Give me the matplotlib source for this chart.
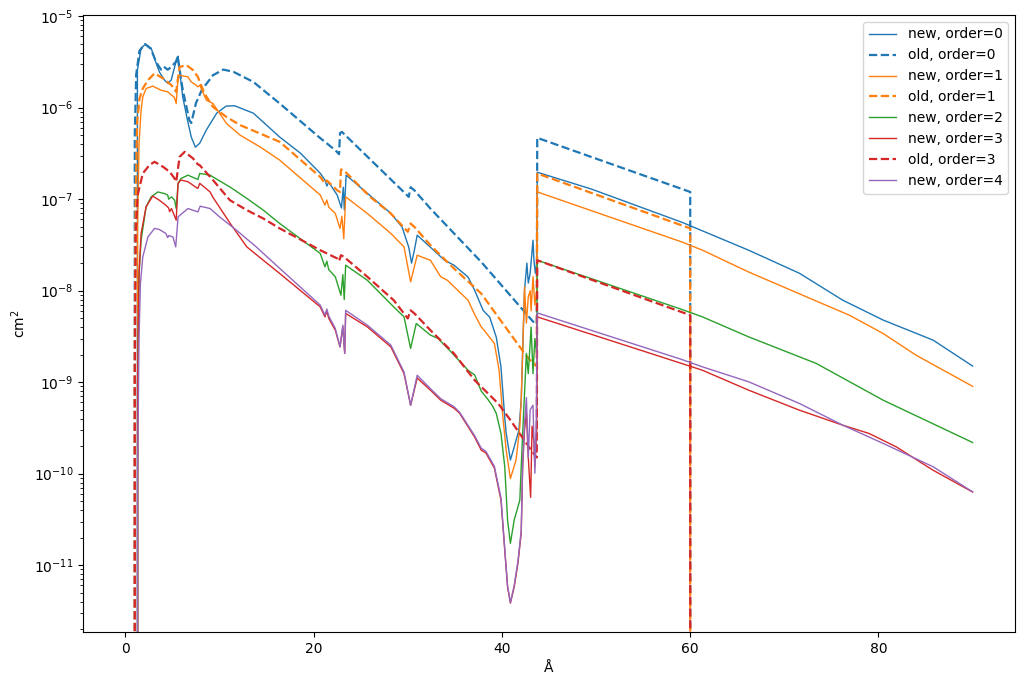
import matplotlib
matplotlib.use("Agg")
import matplotlib.pyplot as plt

# ---- data (wavelength in Angstrom, effective area in cm^2) ----
new0_x = [0, 1.2, 1.28, 1.67, 2.13, 2.74, 3.27, 3.63, 4.16, 4.5, 4.87, 5.23, 5.5, 5.6, 5.76, 6.1, 6.6,
          7.0, 7.44, 7.9, 8.6, 9.7, 10.7, 11.6, 13.6, 16.4, 18.6, 20.7, 21.2, 21.4, 21.6, 22.5, 22.95,
          23.15, 23.26, 23.45, 25.7, 28.2, 29.4, 30.1, 30.4, 30.7, 31.0, 32.4, 33.9, 34.9, 36.4, 37.1,
          38.0, 38.7, 39.4, 39.9, 40.3, 40.45, 40.9, 41.3, 41.8, 42.05, 42.4, 42.65, 42.8, 43.0, 43.3,
          43.4, 43.55, 43.7, 43.75, 49.5, 59.1, 66.2, 71.6, 76.2, 80.5, 85.8, 90.0]
new0_y = [0, 0, 2.57e-6, 4.47e-6, 4.94e-6, 4.47e-6, 3.06e-6, 2.44e-6, 2.0e-6, 1.85e-6, 2.0e-6, 2.77e-6,
          3.56e-6, 3.65e-6, 2.57e-6, 1.3e-6, 7.3e-7, 4.77e-7, 3.7e-7, 4.09e-7, 5.7e-7, 8.7e-7, 1.04e-6,
          1.05e-6, 8.7e-7, 4.77e-7, 3.18e-7, 1.92e-7, 1.62e-7, 1.39e-7, 1.53e-7, 1.11e-7, 8.0e-8,
          1.35e-7, 7.6e-8, 1.83e-7, 1.16e-7, 7.0e-8, 4.94e-8, 2.99e-8, 2.0e-8, 2.77e-8, 4.04e-8,
          2.99e-8, 2.15e-8, 1.9e-8, 1.41e-8, 1.01e-8, 6.1e-9, 5.13e-9, 3.1e-9, 1.46e-9, 4.1e-10,
          2.77e-10, 1.41e-10, 1.95e-10, 2.99e-10, 6.35e-10, 1.01e-8, 2.0e-8, 1.21e-8, 1.55e-8, 3.56e-8,
          2.15e-8, 1.55e-8, 2.0e-8, 1.97e-7, 1.29e-7, 5.6e-8, 2.77e-8, 1.55e-8, 7.87e-9, 4.77e-9,
          2.88e-9, 1.5e-9]

old0_x = [0, 0.97, 1.0, 1.15, 1.5, 2.1, 2.7, 3.3, 3.8, 4.1, 4.5, 4.9, 5.4, 5.55, 6.1, 6.8, 7.0, 7.5,
          8.1, 9.3, 10.4, 11.5, 13.6, 16.4, 20.7, 22.3, 22.7, 22.8, 23.0, 30.1, 30.3, 30.7, 32.4, 37.8,
          43.3, 43.7, 43.75, 60.0, 60.0, 90.0]
old0_y = [0, 0, 5e-7, 2.3e-6, 4.2e-6, 4.95e-6, 4.4e-6, 3.1e-6, 2.6e-6, 2.8e-6, 2.6e-6, 2.8e-6, 3.2e-6,
          3.6e-6, 1.55e-6, 7.3e-7, 6.8e-7, 1.12e-6, 1.55e-6, 2.26e-6, 2.61e-6, 2.46e-6, 1.91e-6,
          1.11e-6, 4.65e-7, 3.43e-7, 3.1e-7, 5.26e-7, 5.44e-7, 1.06e-7, 1.35e-7, 1.25e-7, 7.9e-8,
          2.06e-8, 4.6e-9, 4.3e-9, 4.68e-7, 1.2e-7, 0, 0]

new1_x = [0, 1.25, 1.3, 1.45, 1.67, 1.85, 2.2, 2.9, 3.8, 4.5, 4.9, 5.2, 5.4, 5.6, 5.76, 6.65, 7.0, 7.4,
          7.7, 7.9, 8.6, 9.3, 10.75, 12.2, 14.3, 16.4, 20.7, 21.2, 21.4, 21.6, 22.3, 22.8, 23.0, 23.2,
          23.4, 25.7, 28.2, 29.6, 30.3, 31.0, 32.4, 33.5, 34.2, 36.4, 37.1, 37.8, 38.1, 39.2, 39.7,
          40.1, 40.45, 40.9, 41.5, 41.9, 42.05, 42.4, 42.6, 42.8, 43.0, 43.1, 43.3, 43.5, 43.7, 43.75,
          59.1, 61.3, 66.2, 74.4, 76.9, 80.5, 84.0, 90.0]
new1_y = [0, 0, 5e-8, 4e-7, 9.4e-7, 1.31e-6, 1.62e-6, 1.72e-6, 1.55e-6, 1.49e-6, 1.37e-6, 1.3e-6,
          1.11e-6, 2.17e-6, 2.26e-6, 2.17e-6, 1.91e-6, 1.8e-6, 1.69e-6, 1.76e-6, 1.21e-6, 1.11e-6,
          6.7e-7, 5.0e-7, 3.73e-7, 2.67e-7, 1.11e-7, 8.6e-8, 9.8e-8, 8.2e-8, 6.98e-8, 4.79e-8, 6.5e-8,
          3.7e-8, 1.06e-7, 6.98e-8, 4.22e-8, 3.01e-8, 1.25e-8, 2.44e-8, 2.15e-8, 1.42e-8, 1.3e-8,
          7.87e-9, 5.5e-9, 4.02e-9, 3.7e-9, 2.65e-9, 1.35e-9, 4.18e-10, 1.81e-10, 8.85e-11, 1.41e-10,
          3.24e-10, 6.35e-10, 1.1e-8, 4.42e-9, 8.55e-9, 1.0e-8, 6.0e-9, 1.42e-8, 7.0e-9, 1.0e-8,
          1.2e-7, 3.41e-8, 2.77e-8, 1.6e-8, 6.95e-9, 5.4e-9, 3.4e-9, 1.97e-9, 9.0e-10]

old1_x = [0, 0.97, 1.0, 1.1, 1.25, 1.5, 1.85, 2.4, 3.1, 4.0, 4.9, 5.4, 5.76, 6.5, 7.2, 7.7, 8.4, 9.3,
          10.75, 12.2, 14.3, 16.4, 20.7, 21.2, 21.4, 22.5, 22.8, 22.9, 23.2, 26.0, 28.2, 30.0, 30.3,
          30.7, 32.4, 34.9, 37.8, 42.4, 43.3, 43.7, 43.75, 60.0, 60.0, 90.0]
old1_y = [0, 0, 3e-9, 1e-7, 7e-7, 1.25e-6, 1.62e-6, 2.0e-6, 2.37e-6, 2.09e-6, 1.76e-6, 1.49e-6,
          2.79e-6, 2.91e-6, 2.57e-6, 2.17e-6, 1.43e-6, 1.02e-6, 7.9e-7, 6.44e-7, 5.22e-7, 4.23e-7,
          1.75e-7, 1.49e-7, 1.6e-7, 1.25e-7, 1.2e-7, 2.11e-7, 2.07e-7, 1.06e-7, 6.98e-8, 4.4e-8,
          5.42e-8, 4.98e-8, 3.14e-8, 1.75e-8, 9.3e-9, 2.06e-9, 1.6e-9, 1.5e-9, 1.91e-7, 4.79e-8, 0, 0]

new2_x = [0, 1.25, 1.3, 1.45, 1.67, 2.2, 2.74, 3.45, 4.16, 4.5, 4.6, 4.9, 5.23, 5.4, 5.6, 5.9, 6.65,
          7.7, 7.9, 9.0, 9.3, 11.1, 12.9, 14.65, 16.4, 20.7, 21.2, 21.4, 21.6, 22.3, 22.9, 23.1, 23.25,
          23.4, 25.7, 28.5, 29.6, 30.3, 30.9, 32.4, 33.2, 34.6, 36.4, 37.1, 37.8, 38.5, 39.0, 39.4,
          39.9, 40.3, 40.6, 40.9, 41.3, 41.9, 42.2, 42.6, 42.8, 43.1, 43.3, 43.5, 43.7, 43.75, 59.1,
          61.3, 66.2, 73.4, 80.5, 90.0]
new2_y = [0, 0, 1e-9, 1.5e-8, 3.56e-8, 8.24e-8, 1.06e-7, 1.2e-7, 1.15e-7, 1.11e-7, 1.0e-7, 1.06e-7,
          9.75e-8, 7.9e-8, 1.49e-7, 1.68e-7, 1.83e-7, 1.64e-7, 1.91e-7, 1.83e-7, 1.75e-7, 1.36e-7,
          1.02e-7, 7.59e-8, 5.42e-8, 2.55e-8, 1.82e-8, 2.1e-8, 1.7e-8, 1.42e-8, 8.93e-9, 1.5e-8, 8e-9,
          1.9e-8, 1.3e-8, 6.65e-9, 5.17e-9, 2.34e-9, 4.38e-9, 3.27e-9, 3.01e-9, 2.14e-9, 1.35e-9,
          1.2e-9, 8e-10, 6.5e-10, 5.5e-10, 4.55e-10, 2.75e-10, 1.19e-10, 3.1e-11, 1.73e-11, 3.1e-11,
          5.13e-11, 2.75e-10, 2.06e-9, 1.24e-9, 4.0e-9, 1.24e-9, 3e-9, 2e-9, 2.15e-8, 6.24e-9, 5.17e-9,
          3.13e-9, 1.6e-9, 6.35e-10, 2.19e-10]

new3_x = [0, 1.25, 1.3, 1.45, 1.67, 2.2, 2.9, 3.6, 4.3, 4.6, 4.7, 4.9, 5.4, 5.6, 5.9, 6.65, 7.5, 7.7,
          7.9, 9.0, 9.3, 11.1, 12.9, 14.65, 16.4, 20.7, 21.2, 21.4, 21.6, 22.3, 22.8, 23.1, 23.3, 23.4,
          25.7, 28.2, 29.6, 30.3, 31.0, 32.4, 33.5, 34.9, 35.5, 37.1, 37.8, 38.3, 39.2, 39.9, 40.3,
          40.6, 40.9, 41.3, 41.7, 42.05, 42.2, 42.4, 42.6, 42.8, 43.05, 43.2, 43.4, 43.5, 43.7, 43.75,
          59.1, 61.3, 66.2, 71.6, 76.2, 79.0, 81.9, 85.8, 90.0]
new3_y = [0, 0, 1e-9, 1.5e-8, 4.22e-8, 8.24e-8, 1.08e-7, 9.75e-8, 8.59e-8, 8.0e-8, 7.3e-8, 7.9e-8,
          5.89e-8, 1.49e-7, 1.62e-7, 1.55e-7, 1.35e-7, 1.31e-7, 1.49e-7, 1.2e-7, 1.05e-7, 5.5e-8,
          3.01e-8, 2.15e-8, 1.54e-8, 6.65e-9, 5.17e-9, 6.0e-9, 5.0e-9, 3.7e-9, 2.43e-9, 4.0e-9,
          2.06e-9, 5.64e-9, 4.02e-9, 2.43e-9, 1.24e-9, 5.6e-10, 1.11e-9, 8.18e-10, 6.35e-10, 5.2e-10,
          4.58e-10, 2.51e-10, 1.81e-10, 1.68e-10, 1.15e-10, 5.13e-11, 1.46e-11, 5.75e-12, 3.85e-12,
          5.75e-12, 1.05e-11, 2.24e-11, 1.18e-10, 3.0e-10, 4.6e-10, 1.5e-10, 5.5e-11, 3.3e-10, 2.2e-10,
          1.2e-10, 3.0e-10, 5.17e-9, 1.6e-9, 1.35e-9, 8.18e-10, 4.94e-10, 3.39e-10, 2.75e-10,
          1.96e-10, 1.09e-10, 6.3e-11]

old3_x = [0, 0.97, 1.0, 1.1, 1.3, 1.85, 2.56, 3.1, 4.0, 4.7, 5.2, 5.4, 5.76, 6.3, 7.2, 7.7, 7.9, 9.3,
          11.1, 12.9, 14.65, 16.4, 20.7, 22.5, 22.7, 22.9, 23.2, 25.7, 28.5, 30.0, 30.3, 30.7, 32.4,
          34.9, 37.1, 39.6, 40.9, 43.1, 43.7, 43.75, 60.0, 60.0, 90.0]
old3_y = [0, 0, 1e-9, 4e-8, 1.1e-7, 1.91e-7, 2.36e-7, 2.56e-7, 2.26e-7, 1.99e-7, 1.7e-7, 1.55e-7,
          2.9e-7, 3.29e-7, 2.78e-7, 2.4e-7, 2.35e-7, 1.62e-7, 9.75e-8, 7.59e-8, 6.15e-8, 4.79e-8,
          2.77e-8, 2.25e-8, 2.1e-8, 2.44e-8, 2.35e-8, 1.42e-8, 7.87e-9, 4.97e-9, 6.1e-9, 5.64e-9,
          3.7e-9, 2.06e-9, 1.05e-9, 5.85e-10, 3.85e-10, 1.81e-10, 1.5e-10, 2.15e-8, 5.4e-9, 0, 0]

new4_x = [0, 1.25, 1.3, 1.45, 1.6, 1.85, 2.4, 3.1, 3.6, 4.3, 4.5, 4.6, 5.05, 5.35, 5.6, 6.65, 7.7,
          7.95, 9.0, 10.0, 11.8, 13.9, 16.4, 20.7, 21.2, 21.4, 21.6, 22.3, 22.8, 23.1, 23.3, 23.4,
          25.7, 28.2, 29.6, 30.3, 31.0, 32.4, 33.5, 34.9, 35.5, 37.1, 37.8, 38.3, 39.2, 39.9, 40.3,
          40.6, 40.9, 41.3, 41.7, 42.05, 42.2, 42.4, 42.6, 42.8, 43.0, 43.3, 43.5, 43.65, 43.75, 59.1,
          61.3, 66.2, 71.6, 76.2, 80.5, 85.8, 90.0]
new4_y = [0, 0, 1e-10, 3e-9, 1.2e-8, 2.34e-8, 3.87e-8, 4.79e-8, 4.67e-8, 4.22e-8, 3.8e-8, 4.0e-8,
          3.87e-8, 3.01e-8, 6.41e-8, 7.9e-8, 7.26e-8, 8.38e-8, 7.9e-8, 6.41e-8, 4.58e-8, 3.01e-8,
          1.75e-8, 6.95e-9, 5.4e-9, 6.3e-9, 5.3e-9, 3.86e-9, 2.43e-9, 4.2e-9, 2.06e-9, 6.1e-9, 4.2e-9,
          2.54e-9, 1.29e-9, 5.6e-10, 1.19e-9, 8.5e-10, 6.6e-10, 5.4e-10, 4.7e-10, 2.6e-10, 1.9e-10,
          1.75e-10, 1.2e-10, 5.4e-11, 1.5e-11, 5.9e-12, 3.9e-12, 6.0e-12, 1.1e-11, 2.4e-11, 1.25e-10,
          3.5e-10, 6.8e-10, 1.5e-10, 5.0e-10, 5.6e-10, 1.01e-10, 3.8e-10, 5.71e-9, 1.77e-9, 1.47e-9,
          1.01e-9, 5.85e-10, 3.39e-10, 2.14e-10, 1.19e-10, 6.33e-11]

series = [
    (new0_x, new0_y, "C0", "-", "new, order=0"),
    (old0_x, old0_y, "C0", "--", "old, order=0"),
    (new1_x, new1_y, "C1", "-", "new, order=1"),
    (old1_x, old1_y, "C1", "--", "old, order=1"),
    (new2_x, new2_y, "C2", "-", "new, order=2"),
    (new3_x, new3_y, "C3", "-", "new, order=3"),
    (old3_x, old3_y, "C3", "--", "old, order=3"),
    (new4_x, new4_y, "C4", "-", "new, order=4"),
]

fig = plt.figure(figsize=(10.23, 6.89), dpi=100)
ax = fig.add_axes([83 / 1023, 1 - 632 / 689, (1015 - 83) / 1023, (632 - 15) / 689])
for x, y, c, ls, lab in series:
    lw = 1.0 if ls == "-" else 1.6
    ax.plot(x, y, color=c, ls=ls, lw=lw, label=lab)
ax.set_yscale("log", nonpositive="clip")
ax.set_xlim(-4.5, 94.5)
ax.set_ylim(1.86e-12, 1.03e-5)
ax.set_xlabel("Å")
ax.set_ylabel("cm$^2$")
ax.legend(loc="upper right")
fig.savefig("out.png", dpi=100)
